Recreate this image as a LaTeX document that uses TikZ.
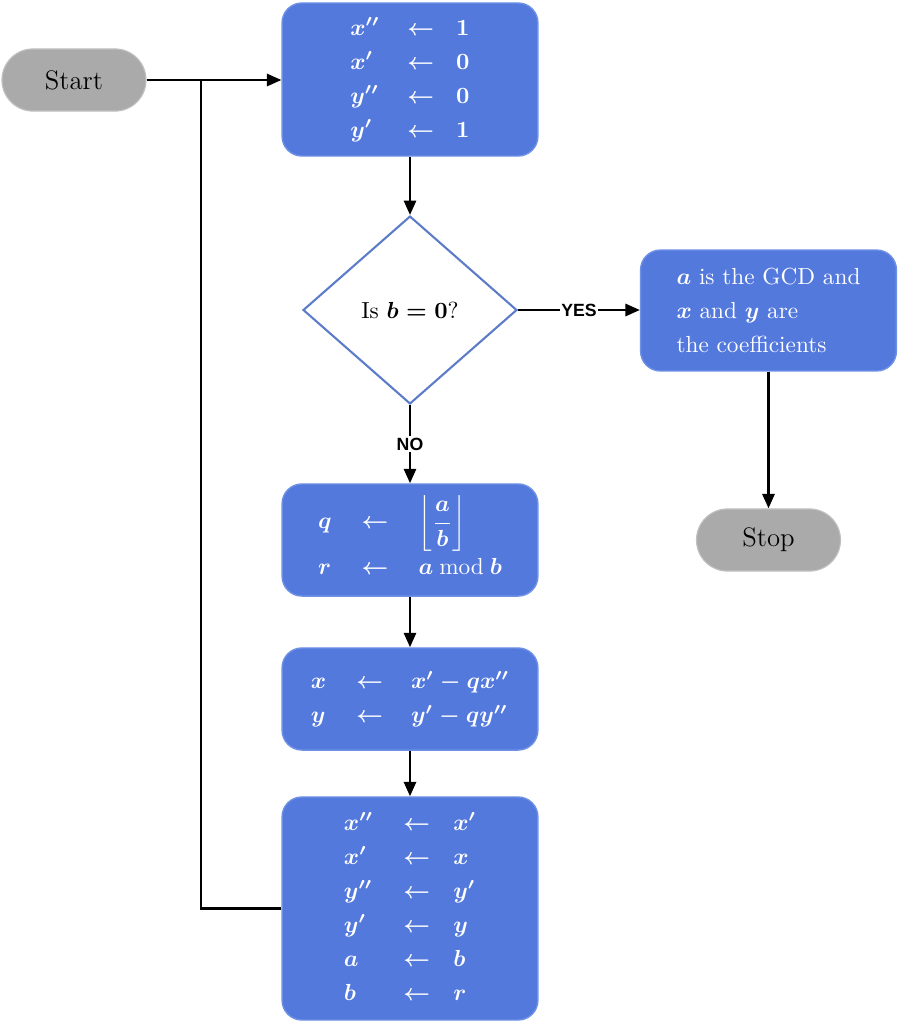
\documentclass[tikz,border=0pt]{standalone}
\usepackage{amsmath}
\usepackage{fontspec}
\newfontfamily\labfont{Liberation Sans}
\usetikzlibrary{shapes.geometric,arrows.meta}
\definecolor{boxblue}{RGB}{84,121,221}
\definecolor{boxedge}{RGB}{110,145,230}
\definecolor{diaedge}{RGB}{92,123,200}
\definecolor{pillgray}{RGB}{170,170,170}
\definecolor{pilledge}{RGB}{192,192,192}
\renewcommand{\arraystretch}{1.22}
\begin{document}
\begin{tikzpicture}[x=0.43pt,y=-0.43pt,
  proc/.style={draw=boxedge, line width=0.6pt, fill=boxblue, rounded corners=8.5pt, text=white, font=\boldmath, minimum width=110pt, inner sep=0pt},
  pill/.style={draw=pilledge, line width=0.5pt, fill=pillgray, rounded corners=13.3pt, minimum width=61.9pt, minimum height=26.7pt, inner sep=0pt, font=\fontsize{11.5}{13}\selectfont},
  dec/.style={diamond, draw=diaedge, line width=0.9pt, fill=white, minimum width=92pt, minimum height=80.8pt, aspect=1.14, inner sep=0pt},
  conn/.style={line width=1.1pt, black},
  arr/.style={conn, -{Triangle[length=6.2pt,width=5.2pt]}},
  lab/.style={font=\labfont\bfseries\fontsize{7.6}{8}\selectfont, fill=white, inner sep=0.6pt}
]
\useasboundingbox (0,0) rectangle (903,1024);

\node[pill] (start) at (74,80) {Start};
\node[pill] (stop) at (768.5,540) {Stop};

\node[proc, minimum height=65.8pt] (init) at (410,79.5)
  {$\begin{array}{@{}l@{\hspace{12pt}}c@{\hspace{9.5pt}}l@{}}
   x'' & \leftarrow & 1\\
   x'  & \leftarrow & 0\\
   y'' & \leftarrow & 0\\
   y'  & \leftarrow & 1
   \end{array}$};

\node[dec] (test) at (410,310) {Is {\boldmath$b=0$}?};

\node[proc, minimum height=52pt, align=left, font=\boldmath\fontsize{10}{14.6}\selectfont] (done) at (768.5,310.5)
  {$a$ is the GCD and\\ $x$ and $y$ are\\ the coefficients};

\node[proc, minimum height=48.2pt] (divide) at (410,540)
  {$\begin{array}{@{}l@{\hspace{13pt}}c@{\hspace{13pt}}l@{}}
   q & \leftarrow & \left\lfloor\dfrac{a}{b}\right\rfloor\\[2pt]
   r & \leftarrow & a\:\text{mod}\:b
   \end{array}$};

\node[proc, minimum height=43.9pt] (update) at (410,699)
  {$\begin{array}{@{}l@{\hspace{13pt}}c@{\hspace{12pt}}l@{}}
   x & \leftarrow & x' - qx''\\
   y & \leftarrow & y' - qy''
   \end{array}$};

\node[proc, minimum height=95.9pt] (shift) at (410,908.5)
  {$\begin{array}{@{}l@{\hspace{13pt}}c@{\hspace{10pt}}l@{}}
   x'' & \leftarrow & x'\\
   x'  & \leftarrow & x\\
   y'' & \leftarrow & y'\\
   y'  & \leftarrow & y\\
   a   & \leftarrow & b\\
   b   & \leftarrow & r
   \end{array}$};

\coordinate (junc) at (201,80);

\draw[arr] (start.east) -- (start.east -| init.west);
\draw[conn] (shift.west) -| (junc);
\draw[arr] (init.south) -- (test.north);
\draw[arr] (test.east) -- node[lab] {YES} (done.west |- test.east);
\draw[arr] (test.south) -- node[lab] {NO} (divide.north);
\draw[arr] (done.south) -- (stop.north);
\draw[arr] (divide.south) -- (update.north);
\draw[arr] (update.south) -- (shift.north);
\end{tikzpicture}
\end{document}
